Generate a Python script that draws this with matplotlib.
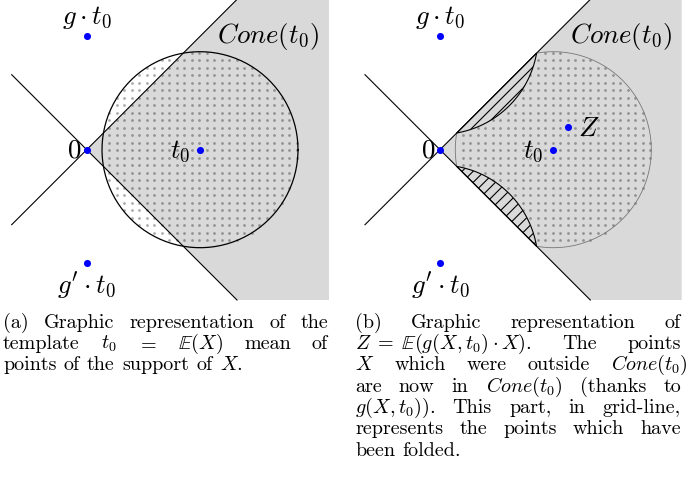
import numpy as np
import matplotlib
matplotlib.use("Agg")
import matplotlib.pyplot as plt
from matplotlib.patches import Polygon

plt.rcParams['mathtext.fontset'] = 'cm'
plt.rcParams['font.family'] = ['cmr10', 'DejaVu Serif']
plt.rcParams['axes.unicode_minus'] = False
plt.rcParams['hatch.linewidth'] = 0.8

# geometry of the two drawings, in pixels of the picture (y up, 0 at the origin dot)
origins = [(86.7, 149.7), (440.0, 149.7)]
t0_dist = 113.3
radius = 98.0
z_point = (128.3, 23.0)
cone_up = 149.7
cone_down = 150.3
cone_right = [242.3, 241.7]
arm_left = 75.0
dot_step = 7.5

gray = '#d9d9d9'
blue = '#0000ff'

# captions, one list of words per printed line, and whether the line is justified
caption_a = [
    (["(a)", "Graphic", "representation", "of", "the"], True),
    (["template", "$t_0$", "$=$", r"$\mathbb{E}(X)$", "mean", "of"], True),
    (["points", "of", "the", "support", "of", "$X$."], False),
]
caption_b = [
    (["(b)", "Graphic", "representation", "of"], True),
    ([r"$Z\;=\;\mathbb{E}(g(X,t_0)\cdot X)$.", "The", "points"], True),
    (["$X$", "which", "were", "outside", "$Cone(t_0)$"], True),
    (["are", "now", "in", "$Cone(t_0)$", "(thanks", "to"], True),
    (["$g(X,t_0)$).", "This", "part,", "in", "grid-line,"], True),
    (["represents", "the", "points", "which", "have"], True),
    (["been", "folded."], False),
]
caption_x = [(3, 328), (355, 681)]
caption_right_overfull = 688
baseline0 = 327.5
line_step = 21.4
caption_size = 14.5
label_size = 19.4

fig = plt.figure(figsize=(6.91, 4.88), dpi=100)
ax = fig.add_axes([0, 0, 1, 1])
ax.set_xlim(0, 691)
ax.set_ylim(488, 0)
ax.axis('off')


def to_px(o, pts):
    pts = np.asarray(pts, dtype=float)
    return np.column_stack([o[0] + pts[:, 0], o[1] - pts[:, 1]])


def arc(cx, cy, a0, a1, n=80):
    a = np.radians(np.linspace(a0, a1, n))
    return np.column_stack([cx + radius * np.cos(a), cy + radius * np.sin(a)])


d, r = t0_dist, radius
# where the circle meets the line y = x
s = np.sqrt(2 * r * r - d * d)
p_in = (d - s) / 2
p_out = (d + s) / 2

for k, o in enumerate(origins):
    cone = [(0, 0), (cone_up, cone_up), (cone_right[k], cone_up),
            (cone_right[k], -cone_down), (cone_down, -cone_down)]
    ax.add_patch(Polygon(to_px(o, cone), closed=True, facecolor=gray,
                         edgecolor='none', zorder=1))

    # dotted pattern
    gx, gy = np.meshgrid(np.arange(d - r, d + r, dot_step),
                         np.arange(-r, r, dot_step))
    gx, gy = gx.ravel(), gy.ravel()
    keep = (gx - d) ** 2 + gy ** 2 < r * r
    if k == 1:
        keep &= np.abs(gy) < gx
        keep &= gx ** 2 + (gy - d) ** 2 > r * r
        keep &= gx ** 2 + (gy + d) ** 2 > r * r
    dots = to_px(o, np.column_stack([gx[keep], gy[keep]]))
    ax.scatter(dots[:, 0], dots[:, 1], s=4.0, c='black', alpha=0.33,
               linewidths=0, zorder=2)

    if k == 0:
        circ = arc(d, 0, 0, 360, 200)
        ax.plot(*to_px(o, circ).T, color='black', lw=0.9, zorder=3)
    else:
        a_out = np.degrees(np.arctan2(p_out, p_out - d))
        a_in = np.degrees(np.arctan2(p_in, p_in - d))
        ax.plot(*to_px(o, arc(d, 0, -a_out, a_out)).T, color='#777777', lw=0.6, zorder=3)
        ax.plot(*to_px(o, arc(d, 0, a_in, 360 - a_in)).T, color='#777777', lw=0.6, zorder=3)
        # folded parts, mirrored across the cone lines
        b0 = np.degrees(np.arctan2(p_in - d, p_in))
        b1 = np.degrees(np.arctan2(p_out - d, p_out))
        upper = arc(0, d, b0, b1)
        lower = upper * np.array([1, -1])
        for lens in (upper, lower):
            ax.add_patch(Polygon(to_px(o, lens), closed=True, facecolor='none',
                                 edgecolor='black', lw=0.8, hatch='///', zorder=3))

    for line in ([(-arm_left, arm_left), (cone_down, -cone_down)],
                 [(-arm_left, -arm_left), (cone_up, cone_up)]):
        ax.plot(*to_px(o, line).T, color='black', lw=0.8, zorder=4)

    pts = [(0, 0), (d, 0), (0, d), (0, -d)]
    if k == 1:
        pts.append(z_point)
    bp = to_px(o, pts)
    ax.scatter(bp[:, 0], bp[:, 1], s=26, c=blue, linewidths=0, zorder=5)

    ox, oy = o
    ax.text(ox, 18, r"$g\cdot t_0$", fontsize=label_size, ha='center', va='center')
    ax.text(ox, 286, r"$g'\cdot t_0$", fontsize=label_size, ha='center', va='center')
    ax.text(ox - 5, oy + 1, "$0$", fontsize=label_size, ha='right', va='center')
    ax.text(ox + d - 10, oy + 1.5, "$t_0$", fontsize=label_size, ha='right', va='center')
    ax.text(ox + 130.5, 37, "$Cone(t_0)$", fontsize=label_size, ha='left', va='center')
    if k == 1:
        ax.text(ox + z_point[0] + 10, oy - z_point[1] + 2.5, "$Z$",
                fontsize=label_size, ha='left', va='center')

renderer = fig.canvas.get_renderer()
space = 0.36 * caption_size * 100 / 72


def put_line(words, x0, x1, y, justify):
    texts = [ax.text(0, y, w, fontsize=caption_size, ha='left', va='baseline')
             for w in words]
    widths = [t.get_window_extent(renderer).width for t in texts]
    gap = (x1 - x0 - sum(widths)) / (len(words) - 1) if justify else space
    x = x0
    for t, w in zip(texts, widths):
        t.set_x(x)
        x += w + gap


for cap, (x0, x1) in zip([caption_a, caption_b], caption_x):
    for i, (words, justify) in enumerate(cap):
        right = x1
        if cap is caption_b and i == 2:
            right = caption_right_overfull
        put_line(words, x0, right, baseline0 + i * line_step, justify)

fig.savefig("out.png", dpi=100)
